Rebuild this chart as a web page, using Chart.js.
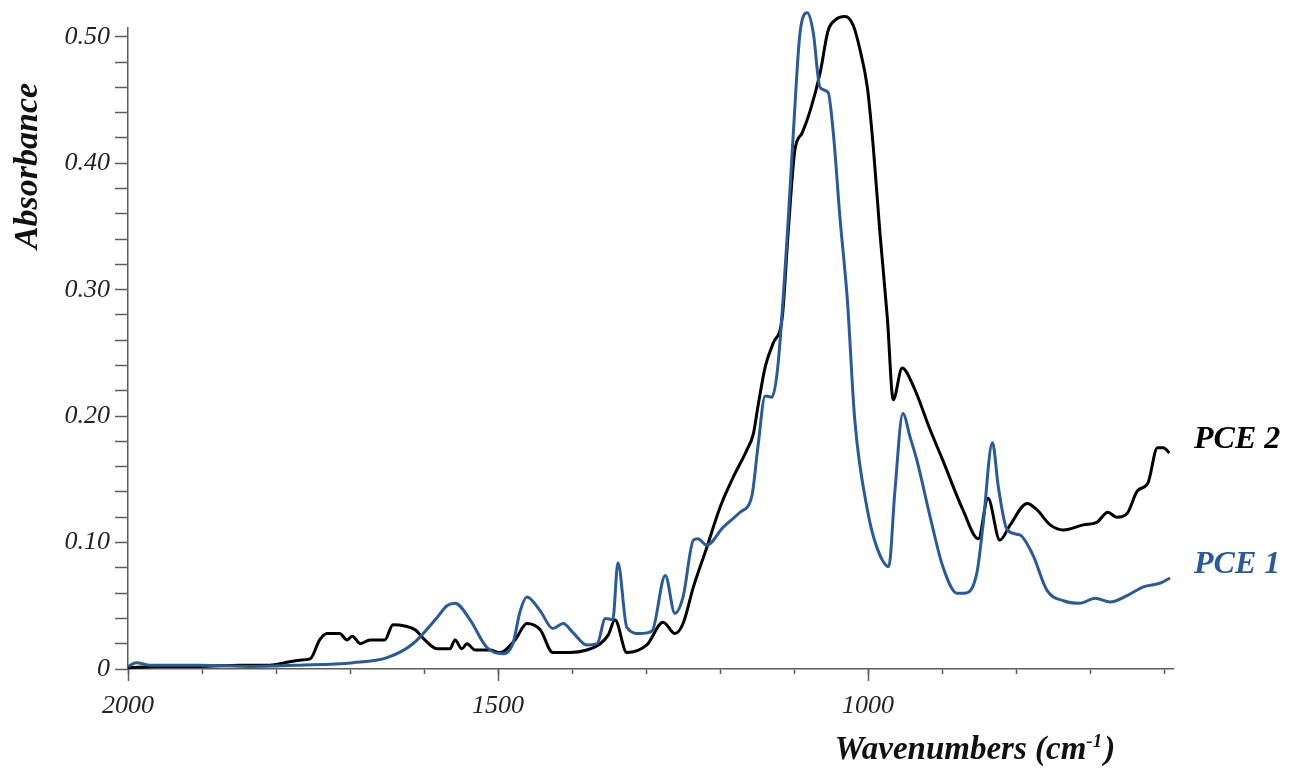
<!DOCTYPE html>
<html>
<head>
<meta charset="utf-8">
<script src="https://cdn.jsdelivr.net/npm/chart.js@4"></script>
<style>
  html, body { margin: 0; padding: 0; background: #fff; }
  canvas { display: block; }
</style>
</head>
<body>
<canvas id="spectrumChart" width="1289" height="769"></canvas>
<script>
// FTIR spectra, absorbance vs wavenumber (cm-1)
const pce2Wavenumbers = [2000, 1957, 1903, 1849, 1808, 1788, 1768, 1754, 1741, 1731, 1714, 1704, 1697, 1686, 1673, 1653, 1642, 1626, 1612, 1599,
  1582, 1565, 1558, 1549, 1542, 1531, 1511, 1497, 1477, 1461, 1443, 1426, 1403, 1380, 1362, 1351, 1342, 1326, 1299, 1277,
  1261, 1250, 1236, 1218, 1200, 1182, 1164, 1155, 1149, 1139, 1128, 1116, 1108, 1099, 1089, 1078, 1065, 1054, 1045, 1031,
  1020, 1011, 1001, 993, 984, 974, 966, 954, 939, 916, 899, 872, 851, 838, 822, 808, 785, 772, 754, 736,
  709, 691, 676, 664, 650, 636, 622, 609, 601, 593];
const pce2Absorbance = [0.001, 0.002, 0.002, 0.003, 0.003, 0.005, 0.007, 0.008, 0.023, 0.028, 0.028, 0.023, 0.026, 0.020, 0.023, 0.023, 0.035, 0.034, 0.031, 0.023,
  0.016, 0.016, 0.023, 0.016, 0.020, 0.015, 0.015, 0.013, 0.023, 0.036, 0.031, 0.013, 0.013, 0.015, 0.020, 0.027, 0.039, 0.013, 0.019, 0.037,
  0.028, 0.036, 0.065, 0.096, 0.128, 0.152, 0.173, 0.186, 0.207, 0.239, 0.258, 0.278, 0.345, 0.410, 0.424, 0.442, 0.471, 0.505, 0.513, 0.516,
  0.509, 0.490, 0.460, 0.413, 0.345, 0.278, 0.213, 0.238, 0.224, 0.189, 0.165, 0.126, 0.103, 0.135, 0.102, 0.114, 0.131, 0.126, 0.114, 0.110,
  0.114, 0.116, 0.124, 0.120, 0.123, 0.141, 0.147, 0.175, 0.175, 0.171];

const pce1Wavenumbers = [2000, 1989, 1970, 1903, 1835, 1768, 1696, 1650, 1615, 1582, 1569, 1558, 1538, 1515, 1493, 1480, 1470, 1461, 1443, 1426,
  1412, 1399, 1380, 1366, 1355, 1345, 1338, 1326, 1308, 1292, 1274, 1261, 1250, 1236, 1230, 1218, 1196, 1173, 1157, 1149,
  1139, 1130, 1122, 1109, 1101, 1092, 1082, 1074, 1065, 1054, 1047, 1038, 1028, 1018, 1001, 988, 972, 964, 953, 943,
  934, 916, 899, 880, 869, 853, 845, 832, 824, 812, 795, 778, 758, 736, 714, 693, 673, 650, 628, 605, 592];
const pce1Absorbance = [0.002, 0.005, 0.003, 0.003, 0.002, 0.003, 0.005, 0.009, 0.020, 0.041, 0.050, 0.052, 0.039, 0.017, 0.012, 0.020, 0.046, 0.057, 0.046, 0.032,
  0.036, 0.029, 0.019, 0.020, 0.040, 0.039, 0.084, 0.033, 0.028, 0.030, 0.074, 0.044, 0.057, 0.102, 0.103, 0.098, 0.112, 0.124, 0.137, 0.175,
  0.216, 0.215, 0.239, 0.345, 0.424, 0.503, 0.519, 0.503, 0.460, 0.456, 0.424, 0.357, 0.292, 0.197, 0.126, 0.096, 0.081, 0.139, 0.202, 0.183,
  0.165, 0.120, 0.081, 0.060, 0.060, 0.076, 0.112, 0.179, 0.144, 0.110, 0.106, 0.091, 0.062, 0.054, 0.052, 0.056, 0.053, 0.058, 0.065, 0.068, 0.072];

const majorWavenumbers = [2000, 1500, 1000];
const seriesNames = ['PCE 2', 'PCE 1'];

const BLUE = '#2c5a92';
const AXIS = '#5c5c5c';
const SERIF = '"Liberation Serif", "Times New Roman", serif';

function toPoints(xs, ys) {
  return xs.map((x, i) => ({ x: x, y: ys[i] }));
}

// axis titles, long ticks at labelled wavenumbers, series names at the right
const spectrumDecor = {
  id: 'spectrumDecor',
  afterDraw(chart) {
    const { ctx, chartArea, scales } = chart;
    ctx.save();

    ctx.strokeStyle = AXIS;
    ctx.lineWidth = 1.5;
    majorWavenumbers.forEach(v => {
      const px = Math.round(scales.x.getPixelForValue(v)) + 0.5;
      ctx.beginPath();
      ctx.moveTo(px, chartArea.bottom);
      ctx.lineTo(px, chartArea.bottom + 12);
      ctx.stroke();
    });

    ctx.fillStyle = '#111';
    ctx.textBaseline = 'alphabetic';

    // x title with superscript -1
    const main = 'Wavenumbers (cm';
    const sup = '-1';
    const close = ')';
    const big = `bold italic 33px ${SERIF}`;
    const small = `bold italic 19px ${SERIF}`;
    ctx.font = big;
    const wMain = ctx.measureText(main).width;
    const wClose = ctx.measureText(close).width;
    ctx.font = small;
    const wSup = ctx.measureText(sup).width;
    let tx = 975 - (wMain + wSup + wClose + 2) / 2;
    const ty = 759;
    ctx.font = big;
    ctx.textAlign = 'left';
    ctx.fillText(main, tx, ty);
    tx += wMain;
    ctx.font = small;
    ctx.fillText(sup, tx, ty - 12);
    tx += wSup + 2;
    ctx.font = big;
    ctx.fillText(close, tx, ty);

    // y title
    ctx.save();
    ctx.translate(28, 166);
    ctx.rotate(-Math.PI / 2);
    ctx.textAlign = 'center';
    ctx.textBaseline = 'middle';
    ctx.font = `bold italic 34px ${SERIF}`;
    ctx.fillText('Absorbance', 0, 0);
    ctx.restore();

    // series names
    ctx.font = `bold italic 32px ${SERIF}`;
    ctx.textAlign = 'left';
    ctx.fillStyle = '#000';
    ctx.fillText(seriesNames[0], chartArea.right + 21, scales.y.getPixelForValue(0.175));
    ctx.fillStyle = BLUE;
    ctx.fillText(seriesNames[1], chartArea.right + 21, scales.y.getPixelForValue(0.076));

    ctx.restore();
  }
};

const tickFont = { family: SERIF, size: 26, style: 'italic' };

new Chart(document.getElementById('spectrumChart'), {
  type: 'line',
  data: {
    datasets: [
      {
        label: seriesNames[1],
        data: toPoints(pce1Wavenumbers, pce1Absorbance),
        borderColor: BLUE,
        clip: false,
      },
      {
        label: seriesNames[0],
        data: toPoints(pce2Wavenumbers, pce2Absorbance),
        borderColor: '#000',
        clip: false,
      },
    ],
  },
  options: {
    responsive: false,
    animation: false,
    layout: { padding: { top: 28, right: 116, left: 0, bottom: 0 } },
    elements: {
      point: { radius: 0 },
      line: { borderWidth: 3, cubicInterpolationMode: 'monotone', fill: false },
    },
    plugins: {
      legend: { display: false },
      tooltip: { enabled: false },
    },
    scales: {
      x: {
        type: 'linear',
        reverse: true,
        min: 588,
        max: 2000,
        afterFit(scale) { scale.height = 100; },
        border: { color: AXIS, width: 1.5 },
        grid: { drawOnChartArea: false, tickLength: 5, color: AXIS, tickWidth: 1.5 },
        ticks: {
          stepSize: 100,
          includeBounds: false,
          autoSkip: false,
          maxRotation: 0,
          padding: 17,
          color: '#222',
          font: tickFont,
          callback: v => (majorWavenumbers.includes(v) ? String(v) : ''),
        },
      },
      y: {
        min: 0,
        max: 0.507,
        afterFit(scale) { scale.width = 128; },
        border: { color: AXIS, width: 1.5 },
        grid: { drawOnChartArea: false, tickLength: 13, color: AXIS, tickWidth: 1.5 },
        ticks: {
          stepSize: 0.02,
          includeBounds: false,
          autoSkip: false,
          padding: 5,
          color: '#222',
          font: tickFont,
          callback: v => {
            const hundredths = Math.round(v * 100);
            if (hundredths % 10 !== 0) return '';
            return hundredths === 0 ? '0' : (hundredths / 100).toFixed(2);
          },
        },
      },
    },
  },
  plugins: [spectrumDecor],
});
</script>
</body>
</html>
